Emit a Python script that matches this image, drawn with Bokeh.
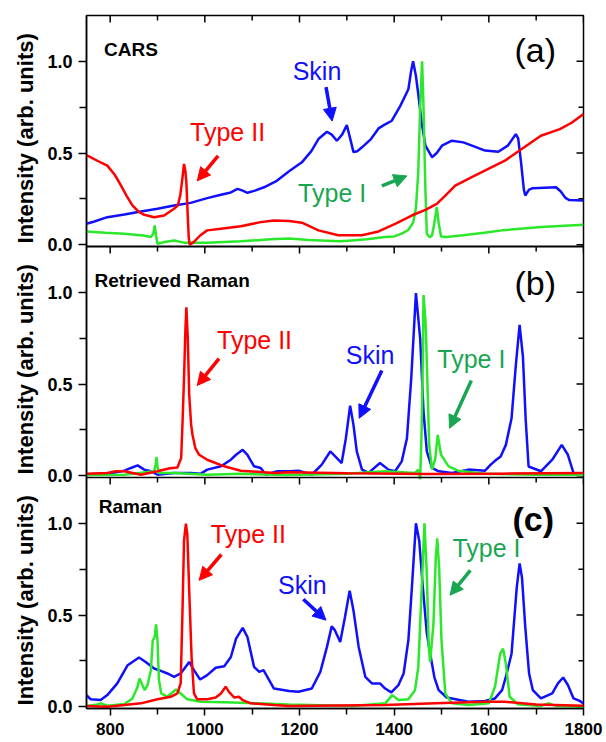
import math
from bokeh.plotting import figure
from bokeh.models import (Range1d, FixedTicker, Label, Arrow, NormalHead, Span,
                          CustomJSTickFormatter)
from bokeh.layouts import row
from bokeh.embed import file_html
from bokeh.resources import INLINE

# ---------------- data ----------------
x_major = [800, 1000, 1200, 1400, 1600, 1800]
x_minor = [900, 1100, 1300, 1500, 1700]
y_major = [0.0, 0.5, 1.0]
y_minor = [0.25, 0.75]

# Panel (a) CARS
a_skin_x = [750, 765, 794, 830, 865, 900, 935, 970, 1005, 1034, 1055, 1069, 1080, 1090, 1106, 1125, 1150, 1178,
            1205, 1225, 1240, 1258, 1268, 1279, 1290, 1300, 1307, 1314, 1322, 1332, 1351, 1367, 1380, 1395, 1413,
            1430, 1436, 1440, 1446, 1452, 1458, 1466, 1480, 1490, 1501, 1522, 1546, 1570, 1592, 1620, 1640, 1657,
            1662, 1668, 1674, 1677, 1685, 1693, 1742, 1752, 1762, 1770, 1800]
a_skin_y = [0.114, 0.125, 0.15, 0.165, 0.181, 0.196, 0.214, 0.228, 0.254, 0.272, 0.285, 0.304, 0.295, 0.283, 0.295,
            0.313, 0.345, 0.4, 0.449, 0.51, 0.576, 0.616, 0.6, 0.567, 0.6, 0.652, 0.58, 0.505, 0.51, 0.531, 0.576,
            0.634, 0.655, 0.676, 0.757, 0.848, 0.95, 1.0, 0.92, 0.8, 0.667, 0.54, 0.477, 0.5, 0.54, 0.567, 0.558,
            0.535, 0.513, 0.507, 0.54, 0.603, 0.58, 0.45, 0.3, 0.268, 0.3, 0.308, 0.313, 0.29, 0.255, 0.243, 0.241]
a_t2_x = [750, 775, 794, 810, 823, 835, 847, 860, 872, 893, 914, 935, 943, 948, 953, 956, 959, 961, 964, 966, 968,
          977, 990, 1005, 1034, 1076, 1118, 1146, 1178, 1205, 1240, 1282, 1332, 1367, 1402, 1437, 1466, 1490, 1508,
          1529, 1564, 1599, 1634, 1661, 1710, 1750, 1775, 1800]
a_t2_y = [0.489, 0.455, 0.431, 0.38, 0.322, 0.265, 0.214, 0.18, 0.163, 0.15, 0.159, 0.196, 0.215, 0.268, 0.37,
          0.44, 0.4, 0.34, 0.15, 0.04, 0.0, 0.015, 0.05, 0.078, 0.087, 0.1, 0.123, 0.132, 0.129, 0.12, 0.078,
          0.051, 0.051, 0.072, 0.114, 0.159, 0.19, 0.223, 0.268, 0.322, 0.368, 0.413, 0.458, 0.507, 0.594, 0.63,
          0.665, 0.712]
a_t1_x = [750, 790, 830, 870, 886, 891, 894, 897, 900, 915, 935, 956, 1005, 1076, 1139, 1178, 1220, 1285, 1311,
          1342, 1381, 1400, 1416, 1430, 1440, 1446, 1451, 1455, 1459, 1462, 1466, 1469, 1475, 1480, 1485, 1490,
          1494, 1499, 1510, 1546, 1590, 1628, 1710, 1800]
a_t1_y = [0.072, 0.065, 0.06, 0.05, 0.042, 0.06, 0.105, 0.05, 0.005, 0.015, 0.023, 0.011, 0.011, 0.018, 0.03,
          0.033, 0.025, 0.018, 0.023, 0.029, 0.042, 0.045, 0.06, 0.08, 0.12, 0.2, 0.4, 0.75, 1.0, 0.75, 0.3,
          0.06, 0.04, 0.05, 0.12, 0.205, 0.12, 0.045, 0.042, 0.051, 0.065, 0.078, 0.096, 0.109]

# Panel (b) Retrieved Raman
b_skin_x = [750, 794, 830, 844, 858, 872, 886, 900, 935, 970, 991, 1005, 1034, 1055, 1066, 1080, 1090, 1104, 1118,
            1129, 1153, 1178, 1198, 1226, 1247, 1265, 1279, 1289, 1298, 1307, 1314, 1321, 1332, 1346, 1370, 1388,
            1402, 1416, 1427, 1436, 1446, 1455, 1462, 1469, 1480, 1494, 1522, 1557, 1592, 1604, 1613, 1625, 1636,
            1648, 1657, 1665, 1672, 1678, 1684, 1710, 1734, 1754, 1767, 1779, 1800]
b_skin_y = [0.008, 0.01, 0.027, 0.042, 0.056, 0.033, 0.024, 0.005, 0.015, 0.015, 0.01, 0.033, 0.051, 0.087, 0.114,
            0.141, 0.114, 0.051, 0.042, 0.005, 0.024, 0.024, 0.027, 0.005, 0.06, 0.132, 0.096, 0.069, 0.204, 0.382,
            0.277, 0.132, 0.033, 0.015, 0.069, 0.033, 0.024, 0.078, 0.204, 0.53, 0.996, 0.747, 0.349, 0.132, 0.042,
            0.024, 0.015, 0.033, 0.027, 0.06, 0.081, 0.105, 0.168, 0.313, 0.602, 0.823, 0.65, 0.3, 0.05, 0.024,
            0.087, 0.168, 0.114, 0.014, 0.01]
b_t2_x = [750, 794, 812, 830, 865, 900, 926, 942, 950, 953, 956, 959, 961, 964, 967, 971, 974, 980, 988, 1005, 1041,
          1076, 1147, 1179, 1302, 1465, 1628, 1800]
b_t2_y = [0.01, 0.015, 0.024, 0.024, 0.005, 0.024, 0.04, 0.045, 0.096, 0.3, 0.53, 0.8, 0.918, 0.75, 0.44, 0.28,
          0.222, 0.15, 0.114, 0.087, 0.051, 0.027, 0.015, 0.018, 0.013, 0.009, 0.011, 0.014]
b_t1_x = [750, 830, 893, 896, 898, 900, 903, 935, 1005, 1076, 1178, 1300, 1381, 1444, 1451, 1455, 1458, 1460, 1462,
          1466, 1468, 1474, 1480, 1487, 1492, 1499, 1515, 1535, 1592, 1700, 1800]
b_t1_y = [0.003, 0.005, 0.024, 0.06, 0.101, 0.05, 0.015, 0.015, 0.005, 0.01, 0.003, 0.01, 0.024, 0.015, 0.033,
          -0.02, 0.25, 0.53, 0.985, 0.85, 0.71, 0.168, 0.033, 0.096, 0.222, 0.114, 0.051, 0.027, 0.01, 0.005, 0.005]

# Panel (c) Raman
c_skin_x = [750, 759, 780, 794, 815, 837, 847, 861, 875, 893, 907, 921, 935, 949, 967, 977, 990, 1005, 1023, 1041,
            1055, 1066, 1080, 1090, 1104, 1115, 1124, 1132, 1146, 1178, 1198, 1226, 1244, 1258, 1268, 1275, 1286,
            1296, 1306, 1314, 1325, 1339, 1353, 1370, 1381, 1394, 1409, 1420, 1430, 1437, 1446, 1453, 1460, 1469,
            1476, 1485, 1494, 1511, 1557, 1592, 1613, 1628, 1636, 1648, 1659, 1665, 1670, 1677, 1685, 1693, 1710,
            1734, 1746, 1757, 1767, 1779, 1791, 1800]
c_skin_y = [0.063, 0.04, 0.036, 0.063, 0.127, 0.226, 0.244, 0.268, 0.244, 0.208, 0.195, 0.181, 0.163, 0.181, 0.244,
            0.199, 0.148, 0.172, 0.212, 0.221, 0.271, 0.371, 0.43, 0.38, 0.217, 0.19, 0.199, 0.163, 0.099, 0.085,
            0.081, 0.099, 0.19, 0.326, 0.438, 0.416, 0.353, 0.488, 0.633, 0.525, 0.326, 0.163, 0.127, 0.127, 0.099,
            0.078, 0.118, 0.181, 0.362, 0.633, 1.0, 0.904, 0.669, 0.4, 0.29, 0.16, 0.09, 0.05, 0.027, 0.031,
            0.045, 0.09, 0.163, 0.289, 0.651, 0.781, 0.705, 0.434, 0.181, 0.09, 0.045, 0.072, 0.127, 0.159, 0.118,
            0.045, 0.033, 0.018]
c_t2_x = [750, 794, 830, 865, 900, 928, 942, 949, 953, 956, 960, 963, 967, 972, 977, 984, 1005, 1023, 1034, 1044,
          1051, 1062, 1072, 1080, 1097, 1146, 1178, 1381, 1487, 1592, 1634, 1700, 1800]
c_t2_y = [0.004, 0.0, 0.009, 0.018, 0.04, 0.054, 0.072, 0.127, 0.543, 0.904, 0.998, 0.94, 0.633, 0.271, 0.072,
          0.04, 0.04, 0.05, 0.072, 0.109, 0.081, 0.05, 0.054, 0.036, 0.018, 0.009, 0.004, 0.009, 0.018, 0.027,
          0.027, 0.012, 0.005]
c_t1_x = [750, 770, 780, 794, 830, 847, 858, 862, 868, 873, 879, 886, 890, 894, 897, 900, 903, 908, 921, 939, 949,
          963, 991, 1041, 1111, 1178, 1311, 1381, 1396, 1409, 1430, 1444, 1451, 1458, 1464, 1469, 1473, 1476, 1483,
          1488, 1491, 1495, 1500, 1508, 1522, 1557, 1600, 1613, 1624, 1630, 1636, 1644, 1661, 1710, 1726, 1742,
          1800]
c_t1_y = [0.004, 0.01, 0.018, 0.005, 0.015, 0.045, 0.109, 0.154, 0.118, 0.09, 0.118, 0.199, 0.362, 0.38, 0.449,
          0.362, 0.145, 0.072, 0.054, 0.094, 0.072, 0.04, 0.027, 0.024, 0.018, 0.012, 0.004, 0.018, 0.063, 0.036,
          0.04, 0.09, 0.217, 0.633, 1.0, 0.723, 0.326, 0.244, 0.452, 0.814, 0.918, 0.76, 0.362, 0.072, 0.018,
          0.009, 0.018, 0.109, 0.289, 0.316, 0.235, 0.054, 0.013, 0.004, 0.018, 0.004, 0.0]

titles = ["CARS", "Retrieved Raman", "Raman"]
letters = ["(a)", "(b)", "(c)"]
y_title = "Intensity (arb. units)"

# ---------------- styling / layout ----------------
FONT = "Liberation Sans"
BLUE = "#1010ff"
RED = "#ff0000"
GREEN_LINE = "#2be82b"
GREEN_TXT = "#19a652"
LW = 2.5

W_LAB = 40                    # narrow strip holding the rotated y titles
W, HGT = 606 - W_LAB, 742
MB_L, MB_R, MB_T, MB_B = 46, 23, 15, 34
X0, X1 = 750, 1800
LO, HI = -0.01, 1.25          # y range of one panel
PH = HI - LO
NP = 3
frame_w = W - MB_L - MB_R
frame_h = HGT - MB_T - MB_B
px_x = frame_w / (X1 - X0)
px_y = frame_h / (NP * PH)
names = ["pc", "pb", "pa"]    # bottom to top


def panel_ranges(fig):
    for k, nm in enumerate(names):
        fig.extra_y_ranges[nm] = Range1d(LO - k * PH, LO - k * PH + NP * PH)


p = figure(width=W, height=HGT, x_range=Range1d(X0, X1), y_range=Range1d(0, NP * PH),
           output_backend="svg", toolbar_location=None,
           min_border_left=MB_L, min_border_right=MB_R, min_border_top=MB_T, min_border_bottom=MB_B)
p.grid.visible = False
p.outline_line_color = "black"
p.outline_line_width = 1.5
p.border_fill_color = "white"
panel_ranges(p)

left_major = [v - LO + k * PH for k in range(NP) for v in y_major]
left_minor = [v - LO + k * PH for k in range(NP) for v in y_minor]
yax = p.yaxis[0]
yax.ticker = FixedTicker(ticks=left_major, minor_ticks=left_minor)
yax.formatter = CustomJSTickFormatter(args=dict(ph=PH, lo=LO), code="""
    const k = Math.floor((tick + 1e-6) / ph);
    const v = Math.round((tick - k * ph + lo) * 10) / 10;
    return Math.abs(v).toFixed(1);
""")
yax.major_tick_in = 0
yax.major_tick_out = 8
yax.minor_tick_in = 0
yax.minor_tick_out = 7
yax.major_tick_line_width = 1.5
yax.minor_tick_line_width = 1.5
yax.axis_line_width = 1.5
yax.major_label_text_font = FONT
yax.major_label_text_font_style = "bold"
yax.major_label_text_font_size = "18px"
yax.major_label_text_color = "black"
yax.major_label_standoff = 6

xax = p.xaxis[0]
xax.ticker = FixedTicker(ticks=x_major, minor_ticks=x_minor)
xax.major_tick_in = 0
xax.major_tick_out = 7
xax.minor_tick_in = 0
xax.minor_tick_out = 6
xax.major_tick_line_width = 1.5
xax.minor_tick_line_width = 1.5
xax.axis_line_width = 1.5
xax.major_label_text_font = FONT
xax.major_label_text_font_style = "bold"
xax.major_label_text_font_size = "17px"
xax.major_label_text_color = "black"
xax.major_label_standoff = 7

for k in range(1, NP):
    p.add_layout(Span(location=k * PH, dimension="width", line_color="black",
                      line_width=2.0 if k == 2 else 1.5))

# inward ticks on the top edge of every panel and on the right edge
maj_len, min_len = 7.0, 5.0
tx0, ty0, tx1, ty1 = [], [], [], []
for k in range(NP):
    top = (k + 1) * PH
    for t in x_major:
        tx0.append(t); ty0.append(top); tx1.append(t); ty1.append(top - maj_len / px_y)
    for t in x_minor:
        tx0.append(t); ty0.append(top); tx1.append(t); ty1.append(top - min_len / px_y)
for t in left_major:
    tx0.append(X1); ty0.append(t); tx1.append(X1 - maj_len / px_x); ty1.append(t)
for t in left_minor:
    tx0.append(X1); ty0.append(t); tx1.append(X1 - min_len / px_x); ty1.append(t)
p.segment(tx0, ty0, tx1, ty1, line_color="black", line_width=1.5)

series = {
    "pa": (a_skin_x, a_skin_y, a_t1_x, a_t1_y, a_t2_x, a_t2_y),
    "pb": (b_skin_x, b_skin_y, b_t1_x, b_t1_y, b_t2_x, b_t2_y),
    "pc": (c_skin_x, c_skin_y, c_t1_x, c_t1_y, c_t2_x, c_t2_y),
}
for nm, (sx, sy, t1x, t1y, t2x, t2y) in series.items():
    p.line(sx, sy, line_color=BLUE, line_width=LW, y_range_name=nm)
    p.line(t1x, t1y, line_color=GREEN_LINE, line_width=LW, y_range_name=nm)
    p.line(t2x, t2y, line_color=RED, line_width=LW, y_range_name=nm)


def add_text(fig, nm, x, y, txt, color, size="25px", style="normal", align="center", baseline="middle",
             angle=0.0):
    fig.add_layout(Label(x=x, y=y, text=txt, text_color=color, text_font=FONT, text_font_size=size,
                         text_font_style=style, text_align=align, text_baseline=baseline,
                         angle=angle, y_range_name=nm))


def add_arrow(nm, x0, y0, x1, y1, color):
    p.add_layout(Arrow(end=NormalHead(size=13, fill_color=color, line_color=color),
                       x_start=x0, y_start=y0, x_end=x1, y_end=y1, line_color=color, line_width=3.5,
                       y_range_name=nm))


# strip with the three rotated y titles (same vertical frame as the main plot)
lab = figure(width=W_LAB, height=HGT, x_range=Range1d(0, W_LAB), y_range=Range1d(0, NP * PH),
             output_backend="svg", toolbar_location=None,
             min_border_left=0, min_border_right=0, min_border_top=MB_T, min_border_bottom=MB_B)
lab.axis.visible = False
lab.grid.visible = False
lab.outline_line_color = None
lab.border_fill_color = "white"
panel_ranges(lab)
for nm in names:
    add_text(lab, nm, 25, 0.58, y_title, "black", "22px", "bold", angle=math.pi / 2)

add_text(p, "pa", 787, 1.065, titles[0], "black", "19px", "bold", "left", "alphabetic")
add_text(p, "pb", 767, 1.063, titles[1], "black", "19px", "bold", "left", "alphabetic")
add_text(p, "pc", 776, 1.094, titles[2], "black", "19px", "bold", "left", "alphabetic")
add_text(p, "pa", 1698, 1.063, letters[0], "black", "34px")
add_text(p, "pb", 1698, 1.053, letters[1], "black", "34px")
add_text(p, "pc", 1694, 1.025, letters[2], "black", "34px", "bold")

# annotations panel a
add_text(p, "pa", 1237, 0.946, "Skin", BLUE)
add_arrow("pa", 1256, 0.859, 1269, 0.674, BLUE)
add_text(p, "pa", 1048, 0.617, "Type II", RED)
add_arrow("pa", 1028, 0.484, 984, 0.348, RED)
add_text(p, "pa", 1269, 0.283, "Type I", GREEN_TXT)
add_arrow("pa", 1374, 0.321, 1427, 0.375, GREEN_TXT)

# annotations panel b
add_text(p, "pb", 1105, 0.74, "Type II", RED)
add_arrow("pb", 1030, 0.638, 984, 0.492, RED)
add_text(p, "pb", 1349, 0.657, "Skin", BLUE)
add_arrow("pb", 1374, 0.573, 1326, 0.313, BLUE)
add_text(p, "pb", 1563, 0.638, "Type I", GREEN_TXT)
add_arrow("pb", 1563, 0.519, 1517, 0.258, GREEN_TXT)

# annotations panel c
add_text(p, "pc", 1092, 0.944, "Type II", RED)
add_arrow("pc", 1035, 0.83, 988, 0.689, RED)
add_text(p, "pc", 1206, 0.665, "Skin", BLUE)
add_arrow("pc", 1208, 0.586, 1256, 0.472, BLUE)
add_text(p, "pc", 1595, 0.868, "Type I", GREEN_TXT)
add_arrow("pc", 1561, 0.743, 1518, 0.608, GREEN_TXT)

layout = row(lab, p, spacing=0)
open("out.html", "w").write(file_html(layout, INLINE))
